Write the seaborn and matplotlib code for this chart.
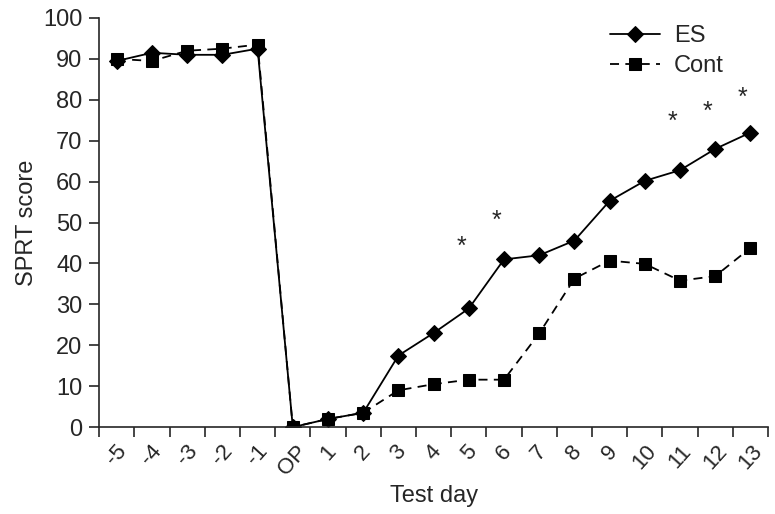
import numpy as np
import pandas as pd
import matplotlib
matplotlib.use("Agg")
import matplotlib.pyplot as plt
import seaborn as sns
from matplotlib.ticker import FixedLocator, FixedFormatter

# data
days = ["-5", "-4", "-3", "-2", "-1", "OP", "1", "2", "3", "4", "5", "6", "7", "8", "9", "10", "11", "12", "13"]
es = [89.5, 91.5, 91, 91, 92.5, 0, 2, 3.5, 17.5, 23, 29, 41, 42, 45.6, 55.3, 60.2, 62.8, 68, 72]
cont = [90, 89.5, 92, 92.5, 93.5, 0, 2, 3.5, 9, 10.5, 11.6, 11.6, 22.9, 36.3, 40.7, 39.9, 35.8, 36.9, 43.8]
sig_days = ["5", "6", "11", "12", "13"]
sig_y = [44, 50.5, 74.5, 77, 80.5]

sns.set_style("ticks")
plt.rcParams["font.family"] = ["Liberation Sans", "DejaVu Sans"]

pos = np.arange(len(days)) + 0.5
df = pd.DataFrame({
    "pos": np.concatenate([pos, pos]),
    "score": es + cont,
    "group": ["ES"] * len(days) + ["Cont"] * len(days),
})

fig = plt.figure(figsize=(7.75, 5.14), dpi=100)
ax = fig.add_axes([0.128, 0.169, 0.863, 0.796])

sns.lineplot(data=df, x="pos", y="score", hue="group", style="group",
             palette={"ES": "black", "Cont": "black"},
             markers={"ES": "D", "Cont": "s"},
             dashes={"ES": "", "Cont": (5, 3.5)},
             markersize=8, linewidth=1.3, markeredgecolor="black", ax=ax)

for d, y in zip(sig_days, sig_y):
    i = days.index(d)
    ax.text(pos[i] - 0.22, y, "*", ha="center", va="center", fontsize=18)

ax.set_xlim(0, len(days))
ax.set_ylim(0, 100)
ax.set_yticks(range(0, 101, 10))
ax.xaxis.set_major_locator(FixedLocator(np.arange(len(days) + 1)))
ax.xaxis.set_major_formatter(FixedFormatter([""] * (len(days) + 1)))
ax.xaxis.set_minor_locator(FixedLocator(pos))
ax.xaxis.set_minor_formatter(FixedFormatter(days))
ax.tick_params(axis="x", which="minor", length=0, labelsize=16, labelrotation=48, pad=10)
ax.tick_params(axis="x", which="major", length=7, width=1.2, direction="out")
ax.tick_params(axis="y", length=7, width=1.2, labelsize=17, pad=5)
for lbl in ax.xaxis.get_minorticklabels():
    lbl.set_ha("center")
    lbl.set_va("top")

ax.set_xlabel("Test day", fontsize=17, labelpad=4)
ax.set_ylabel("SPRT score", fontsize=17, labelpad=4)
sns.despine(ax=ax)
for s in ["left", "bottom"]:
    ax.spines[s].set_linewidth(1.2)

leg = ax.legend(loc="upper left", bbox_to_anchor=(0.732, 1.035), frameon=False,
                fontsize=17, handlelength=2.1, handletextpad=0.6, title=None,
                labelspacing=0.35)

fig.savefig("out.png", dpi=100)
